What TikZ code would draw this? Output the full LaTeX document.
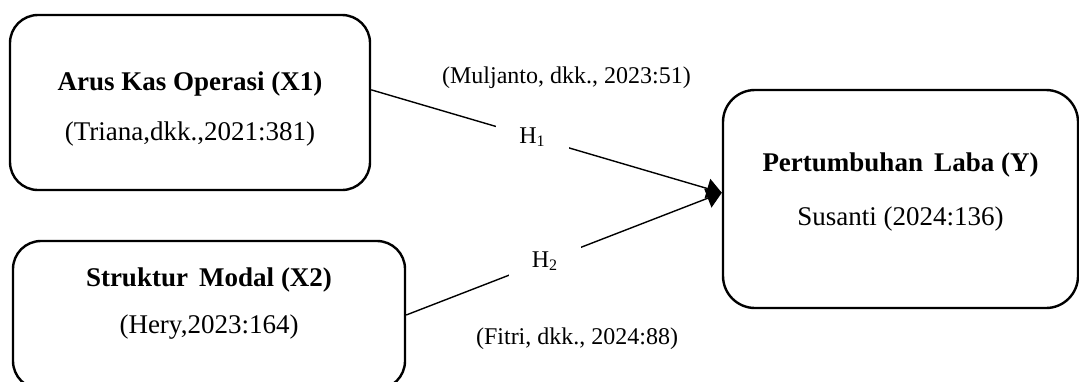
\documentclass[tikz,border=0pt]{standalone}
\usepackage{fontspec}
\setmainfont{Liberation Serif}
\usepackage{tikz}
\usetikzlibrary{arrows.meta, positioning}

\begin{document}
\begin{tikzpicture}[x=0.5pt, y=-0.5pt, >={Triangle[length=7.5pt, width=10pt]},
    every node/.style={align=center},
    varbox/.style={draw, line width=1.2pt, rounded corners=14pt,
      font=\fontsize{13.5}{25}\selectfont},
    hyp/.style={fill=white, inner xsep=11.5pt, inner ysep=4pt,
      font=\fontsize{12}{14}\selectfont},
    cite/.style={font=\fontsize{12}{14}\selectfont}]
  \useasboundingbox (0,0) rectangle (1079,381);

  \node[varbox, minimum width=180pt, minimum height=87.5pt] (arus) at (190,102.5)
    {\rule{0pt}{16.3pt}\textbf{Arus Kas Operasi (X1)}\\(Triana,dkk.,2021:381)};

  \node[varbox, minimum width=196pt, minimum height=74pt] (struktur) at (209,315)
    {\textbf{Struktur\ \,Modal (X2)}\\[-1.5pt](Hery,2023:164)\rule[-14.4pt]{0pt}{1pt}};

  \node[varbox, rounded corners=16pt, minimum width=177.5pt,
        minimum height=109pt] (laba) at (900.5,199)
    {\textbf{Pertumbuhan\ \,Laba (Y)}\\[2pt]Susanti (2024:136)\rule[-10pt]{0pt}{1pt}};

  \draw[->, line width=0.7pt] (arus.4) -- node[hyp, pos=0.46] (h1) {H\textsubscript{1}} (laba.178);
  \draw[->, line width=0.7pt] (struktur.east) -- node[hyp, pos=0.44] (h2) {H\textsubscript{2}} (laba.178);

  \node[cite, above=11.5pt of h1, xshift=17pt] (muljanto) {(Muljanto, dkk., 2023:51)};
  \node[cite, below=20.5pt of h2, xshift=16pt] (fitri) {(Fitri, dkk., 2024:88)};
\end{tikzpicture}
\end{document}
